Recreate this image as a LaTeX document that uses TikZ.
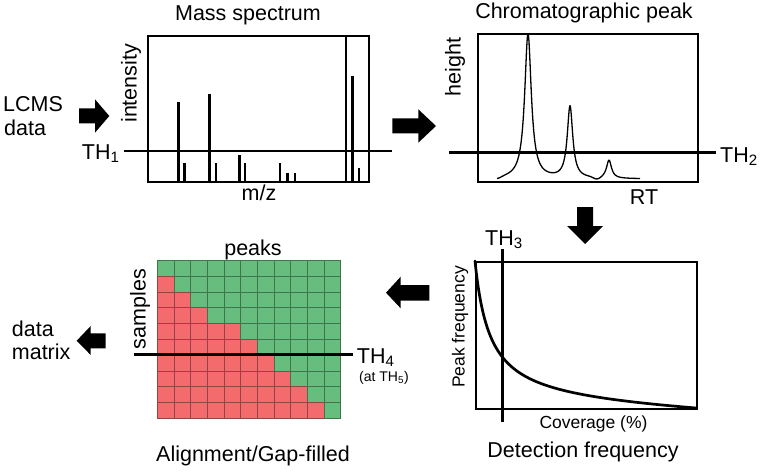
\documentclass[tikz,border=0pt]{standalone}
\usepackage{fontspec}
\setmainfont{Liberation Sans}
\definecolor{cellG}{RGB}{102,189,125}
\definecolor{cellR}{RGB}{244,107,109}
\begin{document}
\begin{tikzpicture}[x=1pt,y=-1pt,
  lbl/.style={font=\fontsize{21.5}{24}\selectfont, inner sep=0pt},
  small/.style={font=\fontsize{17.5}{20}\selectfont, inner sep=0pt},
  tiny/.style={font=\fontsize{14}{16}\selectfont, inner sep=0pt},
  frame/.style={draw=black, line width=2pt},
  thline/.style={draw=black, line width=2.8pt},
  stick/.style={draw=black, line width=2.5pt},
  blk/.style={fill=black}]
\useasboundingbox (0,0) rectangle (765,471);

% ---------- Mass spectrum ----------
\node[lbl, anchor=base] (msTitle) at (248,20) {Mass spectrum};
\node[lbl, anchor=base west, align=left] (lcms) at (3,111.7) {LCMS};
\node[lbl, anchor=base west] (lcmsData) at (4,135) {data};
\fill[blk] (79,108.3) -- (95,108.3) -- (95,99.3) -- (109.3,116) -- (95,132.7) -- (95,123.3) -- (79,123.3) -- cycle;
\foreach \x/\t in {178.3/102.3, 184.3/163.3, 209.3/94, 216/163.3, 239.3/155.3, 245/163.3,
                   280/163.3, 287.7/173.3, 295/173.3, 346/35, 352.7/76, 359/167.7}
  \draw[stick] (\x,181) -- (\x,\t);
\node[frame, minimum width=221.6pt, minimum height=146pt, anchor=north west, inner sep=0pt] (msBox) at (146.7,35) {};
\coordinate (th1a) at (124.3,151);
\coordinate (th1b) at (391.7,151);
\draw[thline] (th1a) -- (th1b);
\node[lbl, anchor=base west] (th1) at (81.7,159.3) {TH\textsubscript{1}};
\node[lbl, rotate=90] (intensity) at (131,83.3) {intensity};
\node[lbl, anchor=base] (mz) at (259,200) {m/z};

% arrow to chromatogram
\fill[blk] (392.3,118.3) -- (418.3,118.3) -- (418.3,109.3) -- (436,126) -- (418.3,142.7) -- (418.3,133.3) -- (392.3,133.3) -- cycle;

% ---------- Chromatographic peak ----------
\node[lbl, anchor=base] (chTitle) at (584,18.7) {Chromatographic peak};
\node[frame, minimum width=219.7pt, minimum height=147.7pt, anchor=north west, inner sep=0pt] (chBox) at (477,33.3) {};
\draw[black, line width=1.3pt, line join=round] plot[domain=497:640, samples=400]
  (\x, {179 + 2*exp(-((\x-497)/6)^2) - 145/(1+((\x-528)/4)^2) - 72/(1+((\x-570)/3.3)^2) - 18/(1+((\x-609)/3)^2) + 2.5*exp(-((\x-597)/5)^2)});
\coordinate (th2a) at (449,152.7);
\coordinate (th2b) at (716,152.7);
\draw[thline] (th2a) -- (th2b);
\node[lbl, anchor=base west] (th2) at (720,162.3) {TH\textsubscript{2}};
\node[lbl, rotate=90] (height) at (455,67) {height};
\node[lbl, anchor=base] (rt) at (644,204) {RT};

% down arrow
\fill[blk] (577,207) -- (593,207) -- (593,226) -- (603,226) -- (585,244) -- (567,226) -- (577,226) -- cycle;

% ---------- Detection frequency ----------
\node[frame, minimum width=221pt, minimum height=147.6pt, anchor=north west, inner sep=0pt] (dfBox) at (475,260.7) {};
\draw[black, line width=2.7pt, line cap=round] plot[domain=0:221, samples=200]
  ({475+\x}, {408 - (2203/(\x+15) + 9.45*(1-\x/221) - 2203/236)});
\coordinate (th3a) at (502.3,249);
\coordinate (th3b) at (502.3,422.3);
\draw[draw=black, line width=2.6pt] (th3a) -- (th3b);
\node[lbl, anchor=base west] (th3) at (485,245) {TH\textsubscript{3}};
\node[small, rotate=90] (pkfreq) at (460,327) {Peak frequency};
\node[small, anchor=base] (cov) at (593.5,428.3) {Coverage (\%)};
\node[lbl, anchor=base] (dfTitle) at (583,457.5) {Detection frequency};

% left arrow to matrix
\fill[blk] (386,292.7) -- (400.7,276.7) -- (400.7,285) -- (429.3,285) -- (429.3,300.7) -- (400.7,300.7) -- (400.7,308.3) -- cycle;

% ---------- Alignment matrix ----------
\foreach \r/\n in {0/0,1/1,2/2,3/3,4/5,5/6,6/7,7/8,8/9,9/10}{
  \foreach \c in {0,...,10}{
    \ifnum\c<\n \def\cc{cellR}\else\def\cc{cellG}\fi
    \filldraw[fill=\cc, draw=\cc!62!black, line width=0.8pt]
      ({157.3+\c*16.66},{260.3+\r*15.8}) rectangle ++(16.66,15.8);
  }
}
\coordinate (th4a) at (134.3,354.3);
\coordinate (th4b) at (353.3,354.3);
\draw[thline] (th4a) -- (th4b);
\node[lbl, anchor=base west] (th4) at (356.7,363.5) {TH\textsubscript{4}};
\node[tiny, anchor=base west] (atth5) at (359,381.7) {(at TH\textsubscript{5})};
\node[lbl, anchor=base] (peaks) at (253,255) {peaks};
\node[lbl, rotate=90] (samples) at (140,309) {samples};
\node[lbl, anchor=base] (alTitle) at (253,461.7) {Alignment/Gap-filled};

% left arrow to data matrix
\fill[blk] (76.7,340.7) -- (90.7,326) -- (90.7,333.3) -- (105.7,333.3) -- (105.7,348.3) -- (90.7,348.3) -- (90.7,355) -- cycle;
\node[lbl, anchor=base west] (dm1) at (11.7,336.3) {data};
\node[lbl, anchor=base west] (dm2) at (11.7,359.8) {matrix};
\end{tikzpicture}
\end{document}
